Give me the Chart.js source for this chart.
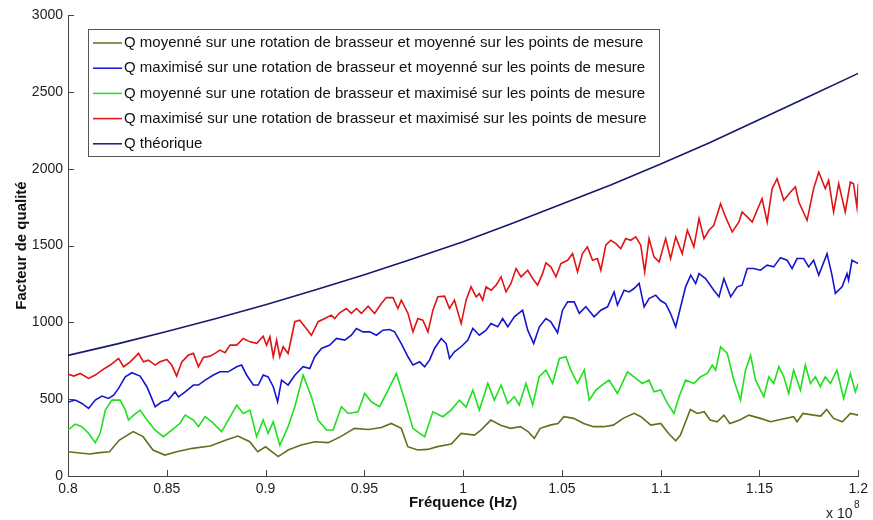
<!DOCTYPE html>
<html lang="fr">

<head>
    <meta charset="UTF-8" />
    <title>Facteur de qualité</title>
    <script src="https://cdn.jsdelivr.net/npm/chart.js"></script>
    <style>
        body {
            margin: 0;
            background: #ffffff;
        }
    </style>
</head>

<body>
    <canvas id="qChart" width="873" height="520"></canvas>

    <script>
        // frequencies are in units of 1e9 Hz (axis shows x 10^8 as in the original)
        const seriesLabels = [
            "Q moyenné sur une rotation de brasseur et moyenné sur les points de mesure",
            "Q maximisé sur une rotation de brasseur et moyenné sur les points de mesure",
            "Q moyenné sur une rotation de brasseur et maximisé sur les points de mesure",
            "Q maximisé sur une rotation de brasseur et maximisé sur les points de mesure",
            "Q théorique"
        ];
        const seriesColors = ["#6b6b1c", "#1515cf", "#1fe01f", "#e01414", "#161a6e"];

        const yTicks = [0, 500, 1000, 1500, 2000, 2500, 3000];
        const xTicks = [0.8, 0.85, 0.9, 0.95, 1, 1.05, 1.1, 1.15, 1.2];

        // moyenné / moyenné (olive)
        const fMoyMoy = [0.800, 0.806, 0.811, 0.816, 0.821, 0.826, 0.833, 0.838, 0.843, 0.849, 0.855, 0.863, 0.872, 0.880, 0.886, 0.892, 0.896, 0.900, 0.9064, 0.9114, 0.918, 0.925, 0.9317, 0.938, 0.945, 0.952, 0.9586, 0.9636, 0.9687, 0.972, 0.977, 0.982, 0.987, 0.994, 0.999, 1.0057, 1.009, 1.014, 1.019, 1.024, 1.029, 1.033, 1.036, 1.039, 1.044, 1.048, 1.051, 1.056, 1.061, 1.066, 1.071, 1.076, 1.081, 1.0865, 1.090, 1.095, 1.100, 1.104, 1.1076, 1.110, 1.115, 1.1185, 1.122, 1.125, 1.1286, 1.132, 1.135, 1.140, 1.1446, 1.1505, 1.1556, 1.1606, 1.1673, 1.169, 1.172, 1.1774, 1.181, 1.184, 1.1875, 1.192, 1.196, 1.200];
        const qMoyMoy = [158, 150, 143, 152, 158, 234, 289, 256, 169, 136, 158, 180, 195, 234, 260, 223, 158, 190, 126, 169, 202, 223, 217, 256, 310, 303, 316, 342, 310, 191, 169, 173, 191, 208, 277, 266, 299, 364, 331, 310, 321, 288, 245, 310, 331, 342, 386, 375, 342, 321, 321, 331, 375, 408, 386, 331, 342, 277, 229, 266, 433, 407, 418, 364, 353, 396, 342, 364, 396, 375, 353, 368, 386, 353, 407, 396, 390, 433, 375, 353, 407, 396];

        // maximisé / moyenné (blue)
        const fMaxMoy = [0.800, 0.8037, 0.8071, 0.8104, 0.8138, 0.8172, 0.8205, 0.8231, 0.8256, 0.829, 0.8323, 0.8365, 0.8399, 0.8424, 0.8441, 0.8475, 0.8508, 0.8542, 0.8559, 0.8593, 0.8635, 0.866, 0.8694, 0.8736, 0.8769, 0.8811, 0.8854, 0.8879, 0.8904, 0.8938, 0.8963, 0.8988, 0.9013, 0.9039, 0.9061, 0.9081, 0.9114, 0.9148, 0.919, 0.9224, 0.9249, 0.9283, 0.9325, 0.9359, 0.9401, 0.9434, 0.946, 0.9493, 0.9527, 0.9561, 0.9594, 0.9628, 0.9653, 0.9687, 0.9721, 0.9746, 0.978, 0.9805, 0.983, 0.9855, 0.9889, 0.9914, 0.9931, 0.9956, 0.999, 1.0024, 1.0049, 1.0082, 1.0116, 1.0141, 1.0175, 1.02, 1.0226, 1.0259, 1.0301, 1.0327, 1.0357, 1.0386, 1.0419, 1.0444, 1.0478, 1.0503, 1.0529, 1.0562, 1.0588, 1.0621, 1.0663, 1.0697, 1.0731, 1.0764, 1.0781, 1.0815, 1.084, 1.0865, 1.0891, 1.0916, 1.0941, 1.0975, 1.100, 1.1025, 1.105, 1.1076, 1.1101, 1.1126, 1.1152, 1.1177, 1.1194, 1.1227, 1.1269, 1.1295, 1.132, 1.1354, 1.1387, 1.1412, 1.1438, 1.1471, 1.1505, 1.1539, 1.1572, 1.1606, 1.164, 1.1665, 1.169, 1.1724, 1.1749, 1.1774, 1.180, 1.1842, 1.1867, 1.1884, 1.1918, 1.1943, 1.1951, 1.1968, 1.200];
        const qMaxMoy = [481, 494, 472, 440, 494, 520, 505, 526, 570, 646, 672, 650, 581, 505, 451, 483, 494, 548, 515, 548, 592, 592, 624, 657, 678, 678, 711, 722, 657, 592, 592, 657, 645, 581, 483, 624, 592, 656, 711, 700, 776, 830, 852, 895, 884, 916, 960, 938, 938, 916, 949, 953, 938, 862, 776, 722, 743, 711, 754, 830, 895, 862, 765, 808, 841, 884, 960, 916, 949, 992, 971, 1025, 971, 1036, 1079, 949, 862, 971, 1025, 1004, 932, 1079, 1133, 1133, 1058, 1101, 1036, 1079, 1101, 1198, 1112, 1209, 1198, 1220, 1253, 1101, 1155, 1177, 1140, 1122, 1057, 971, 1101, 1231, 1307, 1252, 1317, 1285, 1209, 1166, 1285, 1166, 1231, 1242, 1350, 1350, 1339, 1372, 1361, 1421, 1404, 1350, 1415, 1415, 1361, 1404, 1307, 1447, 1307, 1188, 1231, 1317, 1274, 1404, 1382];

        // moyenné / maximisé (green)
        const fMoyMax = [0.800, 0.8037, 0.807, 0.8104, 0.8138, 0.8163, 0.8189, 0.8222, 0.8264, 0.829, 0.8306, 0.8332, 0.8365, 0.840, 0.8441, 0.8483, 0.8525, 0.8567, 0.8593, 0.8635, 0.866, 0.8694, 0.8727, 0.8778, 0.8811, 0.8854, 0.8887, 0.8921, 0.8955, 0.8988, 0.9013, 0.9039, 0.9072, 0.9114, 0.9148, 0.919, 0.9232, 0.9266, 0.9308, 0.9342, 0.9384, 0.9418, 0.9468, 0.9502, 0.9535, 0.9577, 0.962, 0.9662, 0.9704, 0.9746, 0.978, 0.9805, 0.9847, 0.9897, 0.9939, 0.9981, 1.0015, 1.0049, 1.0082, 1.0125, 1.0158, 1.0192, 1.0226, 1.0259, 1.0284, 1.0318, 1.0352, 1.0385, 1.0419, 1.0453, 1.0487, 1.052, 1.0545, 1.0579, 1.0613, 1.0638, 1.0672, 1.0714, 1.0739, 1.0781, 1.0832, 1.0874, 1.0907, 1.0941, 1.0966, 1.100, 1.1034, 1.1067, 1.1093, 1.1126, 1.1168, 1.1202, 1.1236, 1.1261, 1.1278, 1.1303, 1.1337, 1.137, 1.1404, 1.1429, 1.1455, 1.148, 1.1505, 1.1522, 1.1547, 1.1572, 1.1598, 1.1623, 1.1648, 1.1673, 1.1707, 1.1732, 1.1758, 1.1783, 1.1808, 1.1833, 1.1859, 1.1892, 1.1926, 1.196, 1.1985, 1.200];
        const qMoyMax = [300, 338, 321, 278, 217, 278, 429, 494, 494, 429, 364, 396, 429, 364, 299, 256, 299, 343, 396, 364, 321, 386, 354, 289, 364, 461, 407, 429, 256, 364, 277, 353, 199, 321, 451, 656, 516, 364, 299, 299, 451, 407, 418, 537, 483, 451, 559, 667, 494, 310, 277, 256, 418, 386, 429, 494, 449, 559, 429, 602, 494, 592, 472, 516, 462, 602, 462, 646, 689, 602, 765, 776, 689, 602, 689, 494, 559, 602, 624, 537, 678, 635, 602, 624, 548, 560, 472, 407, 516, 624, 602, 646, 667, 722, 689, 841, 797, 624, 494, 689, 786, 624, 559, 516, 646, 602, 711, 646, 537, 689, 559, 722, 602, 646, 581, 646, 602, 689, 505, 667, 548, 602];

        // maximisé / maximisé (red)
        const fMaxMax = [0.800, 0.8029, 0.8062, 0.8104, 0.8138, 0.8172, 0.8214, 0.8256, 0.8281, 0.8315, 0.8357, 0.8382, 0.8407, 0.8441, 0.8466, 0.850, 0.8525, 0.855, 0.8576, 0.861, 0.8635, 0.866, 0.8685, 0.8719, 0.8744, 0.8769, 0.8795, 0.882, 0.8854, 0.8887, 0.8921, 0.8955, 0.8988, 0.9005, 0.9022, 0.9039, 0.9056, 0.9072, 0.9089, 0.9114, 0.9148, 0.9173, 0.9199, 0.9232, 0.9266, 0.930, 0.9333, 0.935, 0.9375, 0.9409, 0.9434, 0.946, 0.9485, 0.9519, 0.9552, 0.9586, 0.9611, 0.9645, 0.967, 0.9687, 0.9721, 0.9746, 0.9771, 0.9796, 0.9822, 0.9847, 0.9872, 0.9906, 0.9931, 0.9956, 0.999, 1.0015, 1.004, 1.0066, 1.0082, 1.0099, 1.0116, 1.0141, 1.0167, 1.0192, 1.0217, 1.0242, 1.0268, 1.0293, 1.0327, 1.0352, 1.0377, 1.0402, 1.0419, 1.0444, 1.047, 1.0495, 1.0529, 1.0554, 1.0579, 1.0604, 1.0629, 1.0655, 1.068, 1.0697, 1.0722, 1.0747, 1.0773, 1.0798, 1.0823, 1.0848, 1.0874, 1.0899, 1.0919, 1.0941, 1.0966, 1.0992, 1.1025, 1.105, 1.1076, 1.1109, 1.1135, 1.1168, 1.1194, 1.1219, 1.1244, 1.1269, 1.1303, 1.1328, 1.1362, 1.1396, 1.1412, 1.1438, 1.1463, 1.1488, 1.1513, 1.1539, 1.1564, 1.1589, 1.1623, 1.1657, 1.1682, 1.1699, 1.1741, 1.1774, 1.180, 1.1833, 1.185, 1.1875, 1.1901, 1.1934, 1.196, 1.1976, 1.1993, 1.200];
        const qMaxMax = [663, 650, 667, 635, 657, 689, 722, 765, 711, 743, 798, 743, 754, 722, 743, 758, 722, 650, 743, 787, 798, 711, 771, 780, 798, 819, 802, 852, 852, 895, 873, 863, 910, 851, 906, 776, 884, 776, 841, 797, 1004, 1014, 971, 916, 1004, 1025, 1047, 1025, 1062, 1090, 1058, 1090, 1058, 1105, 1058, 1122, 1161, 1161, 1090, 1144, 1058, 938, 1025, 1014, 938, 1079, 1166, 1170, 1090, 1144, 992, 1144, 1231, 1166, 1187, 1144, 1231, 1209, 1242, 1296, 1198, 1253, 1350, 1296, 1339, 1285, 1242, 1317, 1387, 1361, 1296, 1383, 1404, 1447, 1328, 1447, 1491, 1404, 1415, 1339, 1502, 1534, 1512, 1480, 1545, 1534, 1556, 1502, 1328, 1545, 1426, 1393, 1545, 1415, 1556, 1447, 1599, 1491, 1675, 1545, 1599, 1632, 1772, 1686, 1588, 1653, 1718, 1686, 1653, 1729, 1805, 1653, 1870, 1935, 1794, 1848, 1881, 1783, 1664, 1870, 1978, 1870, 1924, 1718, 1902, 1718, 1913, 1902, 1751, 1902];

        // théorique (navy, smooth)
        const fTheo = [0.8, 0.825, 0.85, 0.875, 0.9, 0.925, 0.95, 0.975, 1.0, 1.025, 1.05, 1.075, 1.1, 1.125, 1.15, 1.175, 1.2];
        const qTheo = [785, 860, 940, 1025, 1115, 1210, 1310, 1415, 1525, 1645, 1770, 1895, 2030, 2170, 2320, 2470, 2620];

        const fontName = "'Liberation Sans', Arial, sans-serif";

        function pairs(fs, qs) {
            return fs.map((f, i) => ({ x: f, y: qs[i] }));
        }

        const seriesData = [
            pairs(fMoyMoy, qMoyMoy),
            pairs(fMaxMoy, qMaxMoy),
            pairs(fMoyMax, qMoyMax),
            pairs(fMaxMax, qMaxMax),
            pairs(fTheo, qTheo)
        ];

        // MATLAB style: ticks pointing inward, boxed legend, x 10^8 multiplier
        const matlabBits = {
            id: 'matlabBits',
            afterDraw(chart) {
                const ctx = chart.ctx;
                const area = chart.chartArea;
                const xs = chart.scales.x;
                const ys = chart.scales.y;
                ctx.save();
                ctx.strokeStyle = '#444';
                ctx.lineWidth = 1;
                ctx.beginPath();
                xTicks.forEach(v => {
                    const px = Math.round(xs.getPixelForValue(v)) + 0.5;
                    ctx.moveTo(px, area.bottom);
                    ctx.lineTo(px, area.bottom - 6);
                });
                yTicks.forEach(v => {
                    const py = Math.round(ys.getPixelForValue(v)) + 0.5;
                    ctx.moveTo(area.left, py);
                    ctx.lineTo(area.left + 6, py);
                });
                ctx.stroke();

                // legend box
                const bx = 88, by = 29, bw = 571, bh = 127;
                ctx.fillStyle = '#fff';
                ctx.fillRect(bx, by, bw, bh);
                ctx.strokeStyle = '#555';
                ctx.strokeRect(bx + 0.5, by + 0.5, bw, bh);
                ctx.font = '15px ' + fontName;
                ctx.textBaseline = 'middle';
                seriesLabels.forEach((lab, i) => {
                    const y = by + 14 + i * 25.2;
                    ctx.strokeStyle = seriesColors[i];
                    ctx.lineWidth = 1.5;
                    ctx.beginPath();
                    ctx.moveTo(93, y);
                    ctx.lineTo(122, y);
                    ctx.stroke();
                    ctx.fillStyle = '#111';
                    ctx.fillText(lab, 124, y);
                });

                // exponent under the x axis
                ctx.fillStyle = '#222';
                ctx.textBaseline = 'alphabetic';
                ctx.font = '14px ' + fontName;
                ctx.fillText('x 10', 826, 518);
                ctx.font = '10px ' + fontName;
                ctx.fillText('8', 854, 508);
                ctx.restore();
            }
        };

        const ctx = document.getElementById('qChart').getContext('2d');
        const qChart = new Chart(ctx, {
            type: 'line',
            data: {
                datasets: seriesData.map((d, i) => ({
                    label: seriesLabels[i],
                    data: d,
                    borderColor: seriesColors[i],
                    borderWidth: 1.6,
                    pointRadius: 0,
                    tension: 0,
                    fill: false
                }))
            },
            options: {
                responsive: false,
                animation: false,
                layout: { padding: { left: 0, right: 13, top: 15, bottom: 0 } },
                plugins: {
                    legend: { display: false },
                    tooltip: { enabled: false }
                },
                scales: {
                    x: {
                        type: 'linear',
                        min: 0.8,
                        max: 1.2,
                        afterBuildTicks: s => { s.ticks = xTicks.map(v => ({ value: v })); },
                        afterFit: s => { s.height = 44; },
                        grid: { display: true, drawOnChartArea: false, drawTicks: false },
                        border: { display: true, color: '#444', width: 1 },
                        ticks: {
                            padding: 5,
                            color: '#222',
                            font: { family: fontName, size: 14 },
                            maxRotation: 0,
                            callback: v => String(Number(v.toFixed(2)))
                        },
                        title: {
                            display: true,
                            text: 'Fréquence (Hz)',
                            color: '#111',
                            font: { family: fontName, size: 15, weight: 'bold' },
                            padding: { top: 0, bottom: 8 }
                        }
                    },
                    y: {
                        min: 0,
                        max: 3000,
                        afterBuildTicks: s => { s.ticks = yTicks.map(v => ({ value: v })); },
                        afterFit: s => { s.width = 68; },
                        grid: { display: true, drawOnChartArea: false, drawTicks: false },
                        border: { display: true, color: '#444', width: 1 },
                        ticks: {
                            padding: 5,
                            color: '#222',
                            font: { family: fontName, size: 14 },
                            callback: v => String(v)
                        },
                        title: {
                            display: true,
                            text: 'Facteur de qualité',
                            color: '#111',
                            font: { family: fontName, size: 15, weight: 'bold' },
                            padding: { top: 13, bottom: 0 }
                        }
                    }
                }
            },
            plugins: [matlabBits]
        });
    </script>
</body>

</html>
